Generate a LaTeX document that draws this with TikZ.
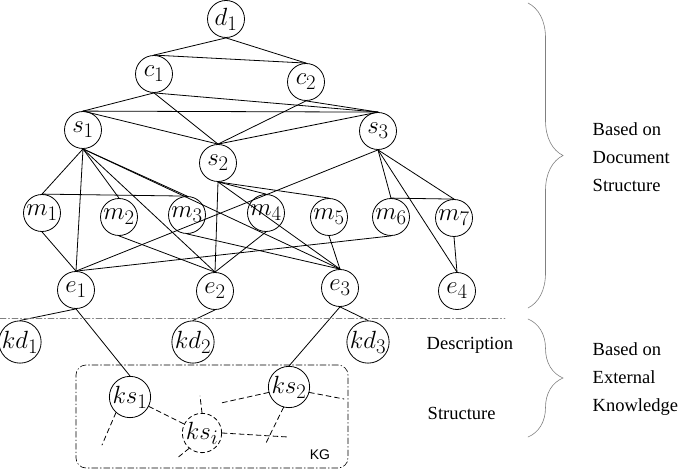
\documentclass[tikz,border=0pt]{standalone}
\usepackage{fontspec}
\newfontfamily\labelfont{Liberation Serif}
\newfontfamily\kgfont{Liberation Sans}
\usetikzlibrary{decorations.pathreplacing}
\tikzset{
  ent/.style={circle, draw, minimum size=37pt, inner sep=0pt, font=\fontsize{24.88}{25}\selectfont},
  kgent/.style={ent, dash pattern=on 4pt off 3pt},
  kgedge/.style={dash pattern=on 5pt off 3.5pt},
  sep/.style={draw=gray, line width=0.6pt, dash pattern=on 6pt off 2.5pt on 1pt off 2.5pt},
  side/.style={font={\labelfont\fontsize{18.5}{28}\selectfont}, align=left, anchor=west},
  grp/.style={decorate, decoration={brace, amplitude=35pt, aspect=0.5}, draw=gray, line width=0.6pt}
}
\begin{document}
\begin{tikzpicture}[x=1pt, y=-1pt, line width=0.8pt, line cap=round]
\useasboundingbox (0,0) rectangle (685,470);
\node[ent] (d1) at (226,19) {$d_1$};
\node[ent] (c1) at (154,74) {$c_1$};
\node[ent] (c2) at (306,82) {$c_2$};
\node[ent] (s1) at (83,130) {$s_1$};
\node[ent] (s2) at (218,163) {$s_2$};
\node[ent] (s3) at (378,131) {$s_3$};
\node[ent] (m1) at (42,213) {$m_1$};
\node[ent] (m2) at (119,217) {$m_2$};
\node[ent] (m3) at (187,215) {$m_3$};
\node[ent] (m4) at (266,213) {$m_4$};
\node[ent] (m5) at (329,217) {$m_5$};
\node[ent] (m6) at (391,217) {$m_6$};
\node[ent] (m7) at (454,218) {$m_7$};
\node[ent] (e1) at (76,290) {$e_1$};
\node[ent] (e2) at (215,291) {$e_2$};
\node[ent] (e3) at (340,288) {$e_3$};
\node[ent] (e4) at (457,291) {$e_4$};
\node[ent] (kd1) at (20,342) {$kd_1$};
\node[ent] (kd2) at (193,342) {$kd_2$};
\node[ent] (kd3) at (368,342) {$kd_3$};
\node[ent] (ks1) at (130,397) {$ks_1$};
\node[ent] (ks2) at (289,387) {$ks_2$};
\node[kgent] (ksi) at (202,433) {$ks_i$};
\foreach \a/\b in {d1/c1, d1/c2, c1/s1, c1/s2, c1/s3, c2/s2, c2/s3,
  s1/m1, s1/m2, s1/m3, s1/e1, s1/e2, s1/e3, s2/m4, s2/m5, s2/e2, s2/e3,
  s3/m6, s3/m7, s3/e4, s3/e1, m1/e1, m2/e2, m3/e3, m4/e2, m5/e3, m6/e1, m7/e4,
  e1/kd1, e1/ks1, e2/kd2, e3/kd3, e3/ks2}
  \draw (\a.south) -- (\b.north);
\foreach \a/\b in {c1/c2, s1/s2, s1/s3, s2/s3, m1/m3, m6/m7}
  \draw (\a.north) -- (\b.north);
\draw[sep] (0,318) -- (505,318);
\node[draw, sep, draw=black, rounded corners=10pt, minimum width=272pt, minimum height=103pt] (kg) at (212,416.5) {};
\node[font={\kgfont\fontsize{14}{14}\selectfont}] (kglab) at (320,455) {KG};
\coordinate (f1) at (102,445);
\coordinate (f2) at (200,396);
\coordinate (f3) at (176,459);
\coordinate (f4) at (288,437);
\coordinate (f5) at (266,443);
\coordinate (f6) at (221,403);
\coordinate (f7) at (344,399);
\draw[kgedge] (ks1.228) -- (f1);
\draw[kgedge] (ks1) -- (ksi);
\draw[kgedge] (ksi.north) -- (f2);
\draw[kgedge] (ksi.230) -- (f3);
\draw[kgedge] (ksi.east) -- (f4);
\draw[kgedge] (ks2.-105) -- (f5);
\draw[kgedge] (ks2.195) -- (f6);
\draw[kgedge] (ks2.-15) -- (f7);
\node[side] (desc) at (423,345) {Description};
\node[side] (struc) at (424,413) {Structure};
\draw[grp] (528,3) -- (528,308);
\draw[grp] (528,319) -- (528,437);
\node[side] (docside) at (589,157) {Based on\\Document\\Structure};
\node[side] (extside) at (589,379) {Based on\\External\\Knowledge};
\end{tikzpicture}
\end{document}
